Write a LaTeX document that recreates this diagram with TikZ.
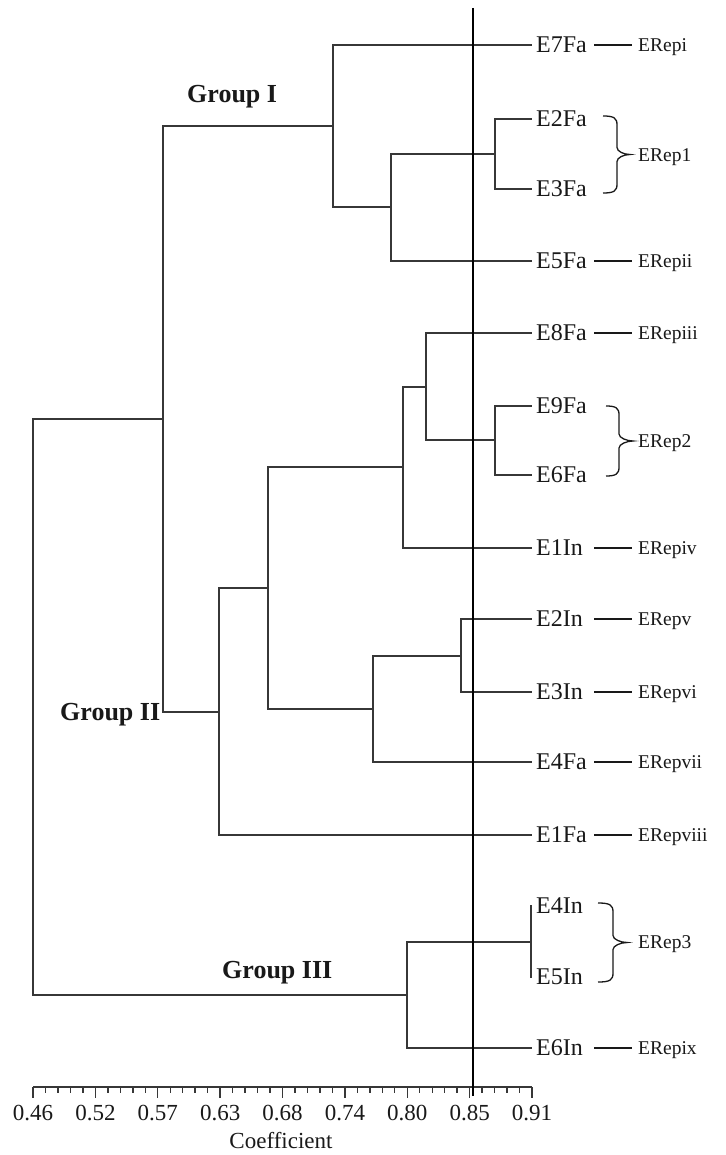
\documentclass[tikz,border=0pt]{standalone}
\usepackage{fontspec}
\setmainfont{Liberation Serif}
\definecolor{ink}{RGB}{25,25,25}
\definecolor{linegray}{RGB}{55,55,55}

% right-pointing curly brace: end x, body x, tip x, top y, bottom y
\newcommand\rcurly[5]{%
  \pgfmathsetmacro\ymid{(#4+#5)/2}%
  \draw[bracket] (#1,#4) .. controls (#2-3,#4) and (#2,#4+2) .. (#2,#4+9)
    -- (#2,\ymid-7) .. controls (#2,\ymid-3) and (#3-6,\ymid) .. (#3,\ymid)
    .. controls (#3-6,\ymid) and (#2,\ymid+3) .. (#2,\ymid+7)
    -- (#2,#5-9) .. controls (#2,#5-2) and (#2-3,#5) .. (#1,#5);}

\begin{document}
\begin{tikzpicture}[x=1pt,y=-1pt,
  every node/.style={inner sep=0pt, text=ink},
  leaf/.style={anchor=west, font=\fontsize{24}{24}\selectfont, text height=15.9pt, text depth=0pt},
  tag/.style={anchor=west, font=\fontsize{19.5}{19.5}\selectfont, text height=12.9pt, text depth=0pt},
  grp/.style={anchor=west, font=\bfseries\fontsize{26}{26}\selectfont, text height=17.2pt, text depth=0pt},
  ticklabel/.style={anchor=center, font=\fontsize{23}{23}\selectfont, text height=15.5pt, text depth=0pt},
  branch/.style={draw=linegray, line width=1.8pt, line join=miter},
  dashln/.style={draw=ink, line width=1.2pt},
  bracket/.style={draw=ink, line width=1.3pt},
  cutline/.style={draw=black, line width=1.2pt},
  axisln/.style={draw=linegray, line width=1.6pt},
]
\useasboundingbox (0,0) rectangle (725,1155);
\fill[white] (0,0) rectangle (725,1155);

% leaves
\node[leaf] (E7Fa) at (536,45)   {E7Fa};
\node[leaf] (E2Fa) at (536,119)  {E2Fa};
\node[leaf] (E3Fa) at (536,189)  {E3Fa};
\node[leaf] (E5Fa) at (536,261)  {E5Fa};
\node[leaf] (E8Fa) at (536,333)  {E8Fa};
\node[leaf] (E9Fa) at (536,406)  {E9Fa};
\node[leaf] (E6Fa) at (536,475)  {E6Fa};
\node[leaf] (E1In) at (536,548)  {E1In};
\node[leaf] (E2In) at (536,619)  {E2In};
\node[leaf] (E3In) at (536,692)  {E3In};
\node[leaf] (E4Fa) at (536,762)  {E4Fa};
\node[leaf] (E1Fa) at (536,835)  {E1Fa};
\node[leaf] (E4In) at (536,906)  {E4In};
\node[leaf] (E5In) at (536,977)  {E5In};
\node[leaf] (E6In) at (536,1048) {E6In};

% leaf attachment points
\foreach \n in {E7Fa,E2Fa,E3Fa,E5Fa,E8Fa,E9Fa,E6Fa,E1In,E2In,E3In,E4Fa,E1Fa,E4In,E5In,E6In}
  \coordinate (\n-e) at ([xshift=-4pt]\n.west);

% internal joins
\coordinate (n1)   at (495,154);
\coordinate (n2)   at (391,207);
\coordinate (n3)   at (333,126);
\coordinate (n4)   at (495,440);
\coordinate (n5)   at (426,387);
\coordinate (n6)   at (403,467);
\coordinate (n7)   at (461,656);
\coordinate (n8)   at (373,709);
\coordinate (n9)   at (268,588);
\coordinate (n10)  at (219,712);
\coordinate (n11)  at (163,419);
\coordinate (n12)  at (531,942);
\coordinate (n13)  at (407,995);
\coordinate (root) at (33,707);

% dendrogram
\draw[branch] (n1) |- (E2Fa-e);  \draw[branch] (n1) |- (E3Fa-e);
\draw[branch] (n2) |- (n1);      \draw[branch] (n2) |- (E5Fa-e);
\draw[branch] (n3) |- (E7Fa-e);  \draw[branch] (n3) |- (n2);
\draw[branch] (n4) |- (E9Fa-e);  \draw[branch] (n4) |- (E6Fa-e);
\draw[branch] (n5) |- (E8Fa-e);  \draw[branch] (n5) |- (n4);
\draw[branch] (n6) |- (n5);      \draw[branch] (n6) |- (E1In-e);
\draw[branch] (n7) |- (E2In-e);  \draw[branch] (n7) |- (E3In-e);
\draw[branch] (n8) |- (n7);      \draw[branch] (n8) |- (E4Fa-e);
\draw[branch] (n9) |- (n6);      \draw[branch] (n9) |- (n8);
\draw[branch] (n10) |- (n9);     \draw[branch] (n10) |- (E1Fa-e);
\draw[branch] (n11) |- (n3);     \draw[branch] (n11) |- (n10);
\draw[branch] (n12) |- (E4In-e); \draw[branch] (n12) |- (E5In-e);
\draw[branch] (n13) |- (n12);    \draw[branch] (n13) |- (E6In-e);
\draw[branch] (root) |- (n11);   \draw[branch] (root) |- (n13);

% group labels
\node[grp] (g1) at (187,94)  {Group I};
\node[grp] (g2) at (60,712)  {Group II};
\node[grp] (g3) at (222,970) {Group III};

% accession tags
\node[tag] (ERepi)    at (638,45)   {ERepi};
\node[tag] (ERep1)    at (638,155)  {ERep1};
\node[tag] (ERepii)   at (638,261)  {ERepii};
\node[tag] (ERepiii)  at (638,333)  {ERepiii};
\node[tag] (ERep2)    at (638,441)  {ERep2};
\node[tag] (ERepiv)   at (638,548)  {ERepiv};
\node[tag] (ERepv)    at (638,619)  {ERepv};
\node[tag] (ERepvi)   at (638,692)  {ERepvi};
\node[tag] (ERepvii)  at (638,762)  {ERepvii};
\node[tag] (ERepviii) at (638,835)  {ERepviii};
\node[tag] (ERep3)    at (638,942)  {ERep3};
\node[tag] (ERepix)   at (638,1048) {ERepix};

\foreach \a/\b in {E7Fa/ERepi,E5Fa/ERepii,E8Fa/ERepiii,E1In/ERepiv,E2In/ERepv,
                   E3In/ERepvi,E4Fa/ERepvii,E1Fa/ERepviii,E6In/ERepix}
  \draw[dashln] ([xshift=58pt]\a.west) -- ([xshift=-6pt]\b.west);

% braces for the duplicate pairs
\rcurly{603}{617}{630}{116}{193}
\rcurly{606}{619}{633}{406}{476}
\rcurly{598}{613}{627}{903}{982}

% coefficient axis
\draw[axisln] (33,1087) -- (532,1087);
\foreach \i in {0,...,40}{
  \pgfmathsetmacro\tx{33+\i*12.475}
  \pgfmathsetmacro\tl{mod(\i,5)==0 ? 11 : 6}
  \draw[draw=linegray, line width=1.4pt] (\tx,1087) -- (\tx,1087+\tl);
}
\foreach \v [count=\k from 0] in {0.46,0.52,0.57,0.63,0.68,0.74,0.80,0.85,0.91}{
  \pgfmathsetmacro\lx{33+\k*62.375}
  \node[ticklabel] (lab\k) at (\lx,1113) {\v};
}
\node[ticklabel] (axtitle) at (281,1141) {Coefficient};

% similarity cut-off
\draw[cutline] (473,8) -- (473,1096);
\end{tikzpicture}
\end{document}
